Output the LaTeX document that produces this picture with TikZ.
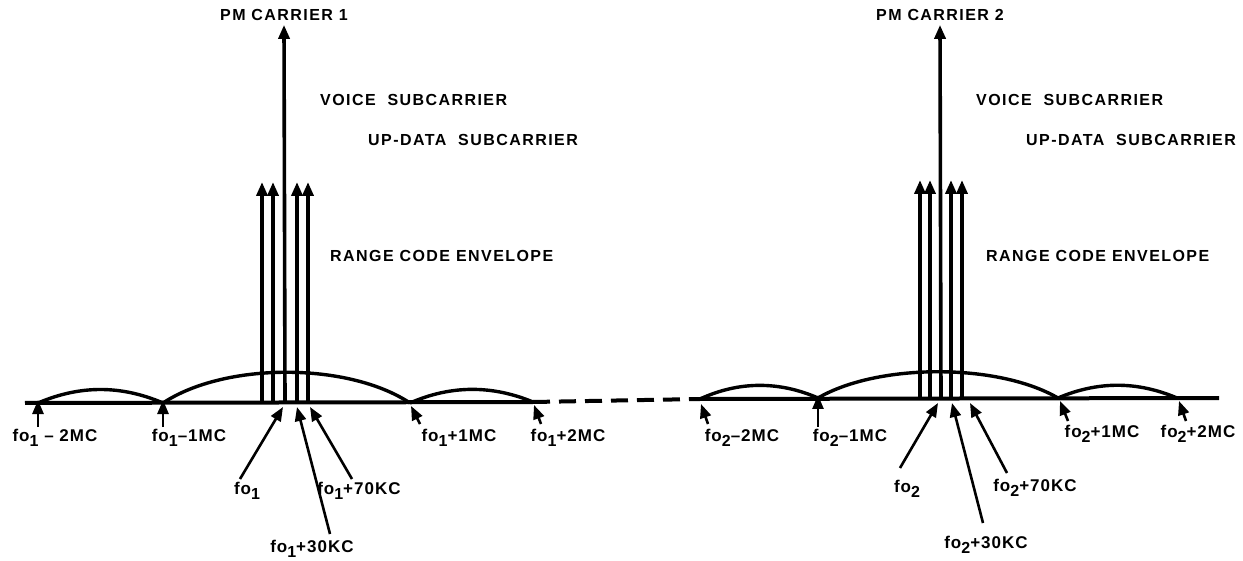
\documentclass[tikz,border=0pt]{standalone}
\usepackage{fontspec}
\setmainfont{Liberation Sans}
\usetikzlibrary{arrows.meta}
\newcommand{\sbs}[1]{\raisebox{-0.55ex}{\fontsize{16}{16}\selectfont #1}}
\tikzset{
  axisline/.style={line width=4pt},
  lobe/.style={line width=3.4pt},
  spec/.style={line width=3.6pt,-{Triangle[length=14pt,width=11pt]}},
  ptr/.style={line width=2.6pt,-{Triangle[length=14pt,width=11pt]}},
  lbl/.style={font=\fontsize{17}{17}\selectfont\bfseries\addfontfeatures{LetterSpace=6},inner sep=0pt},
  ttl/.style={font=\fontsize{16}{16}\selectfont\bfseries\addfontfeatures{LetterSpace=9},inner sep=0pt},
}
\begin{document}
\begin{tikzpicture}[x=1pt,y=-1pt]
\useasboundingbox (0,0) rectangle (1243,561);
% ---------- baseline ----------
\coordinate (L0) at (25,403);
\coordinate (La) at (38,403);
\coordinate (Lb) at (163,403);
\coordinate (Lc) at (410,403);
\coordinate (Ld) at (533,402);
\coordinate (Ra) at (700,399);
\coordinate (Rb) at (818,398);
\coordinate (Rc) at (1058,398);
\coordinate (Rd) at (1177,398);
\coordinate (R0) at (1219,398);
\draw[axisline] (L0) -- (Ld);
\draw[axisline,dash pattern=on 17pt off 9pt] (Ld) -- (Ra);
\draw[axisline] (Ra) -- (R0);
% ---------- lobes ----------
\draw[lobe] (La) .. controls (80,385) and (121,385) .. (Lb);
\draw[lobe] (Lb) .. controls (225,362) and (348,362) .. (Lc);
\draw[lobe] (Lc) .. controls (451,385) and (492,385) .. (Ld);
\draw[lobe] (Ra) .. controls (739,381) and (779,381) .. (Rb);
\draw[lobe] (Rb) .. controls (878,363) and (998,363) .. (Rc);
\draw[lobe] (Rc) .. controls (1098,381) and (1137,381) .. (Rd);
% ---------- spectral lines, carrier 1 ----------
\foreach \n/\x in {a/262,b/273,d/297,e/308}{
  \coordinate (s1\n) at (\x,403);
  \coordinate (t1\n) at (\x,182);
  \draw[spec] (s1\n) -- (t1\n);
}
\node[ttl] (pm1) at (284,15) {PM CARRIER 1};
\coordinate (s1c) at (285,403);
\draw[spec] (s1c) -- ([yshift=-4pt]pm1.south);
% ---------- spectral lines, carrier 2 ----------
\foreach \n/\x in {a/920,b/930,d/951,e/962}{
  \coordinate (s2\n) at (\x,398);
  \coordinate (t2\n) at (\x,180);
  \draw[spec] (s2\n) -- (t2\n);
}
\node[ttl] (pm2) at (940,15) {PM CARRIER 2};
\coordinate (s2c) at (941,398);
\draw[spec] (s2c) -- ([yshift=-4pt]pm2.south);
% ---------- titles ----------
\node[ttl,anchor=west] (v1) at (320,100) {VOICE\ \ SUBCARRIER};
\node[ttl,anchor=west] (u1) at (368,140) {UP-DATA\ \ SUBCARRIER};
\node[ttl,anchor=west] (r1) at (330,256) {RANGE CODE ENVELOPE};
\node[ttl,anchor=west] (v2) at (976,100) {VOICE\ \ SUBCARRIER};
\node[ttl,anchor=west] (u2) at (1026,140) {UP-DATA\ \ SUBCARRIER};
\node[ttl,anchor=west] (r2) at (986,256) {RANGE CODE ENVELOPE};
% ---------- labels carrier 1 ----------
\node[lbl] (m2a) at (55,438) {fo\sbs{1} -- 2MC};
\node[lbl] (m1a) at (189,438) {fo\sbs{1}--1MC};
\node[lbl] (p1a) at (459,438) {fo\sbs{1}+1MC};
\node[lbl] (p2a) at (568,438) {fo\sbs{1}+2MC};
\node[lbl] (f1) at (247,491) {fo\sbs{1}};
\node[lbl] (f130) at (312,549) {fo\sbs{1}+30KC};
\node[lbl] (f170) at (359,491) {fo\sbs{1}+70KC};
\draw[ptr] (m2a.north -| La) ++(0,-2) -- ([yshift=3pt]La);
\draw[ptr] (m1a.north -| Lb) ++(0,-2) -- ([yshift=3pt]Lb);
\coordinate (q1) at (420,424);
\coordinate (q2) at (541,424);
\draw[ptr] (q1) -- (411,406);
\draw[ptr] (q2) -- (534,405);
\coordinate (g1) at (240,479);
\coordinate (g2) at (330,534);
\coordinate (g3) at (352,479);
\draw[ptr] (g1) -- (283,407);
\draw[ptr] (g2) -- (297,407);
\draw[ptr] (g3) -- (310,407);
% ---------- labels carrier 2 ----------
\node[lbl] (m2b) at (742,438) {fo\sbs{2}--2MC};
\node[lbl] (m1b) at (850,438) {fo\sbs{2}--1MC};
\node[lbl] (p1b) at (1102,434) {fo\sbs{2}+1MC};
\node[lbl] (p2b) at (1198,434) {fo\sbs{2}+2MC};
\node[lbl] (f2) at (907,489) {fo\sbs{2}};
\node[lbl] (f230) at (986,545) {fo\sbs{2}+30KC};
\node[lbl] (f270) at (1035,488) {fo\sbs{2}+70KC};
\coordinate (q3) at (708,424);
\coordinate (q4) at (1068,421);
\coordinate (q5) at (1186,421);
\draw[ptr] (q3) -- (701,404);
\draw[ptr] (m1b.north -| Rb) ++(0,-2) -- ([yshift=3pt]Rb);
\draw[ptr] (q4) -- (1060,401);
\draw[ptr] (q5) -- (1179,401);
\coordinate (h1) at (900,468);
\coordinate (h2) at (983,523);
\coordinate (h3) at (1007,473);
\draw[ptr] (h1) -- (938,403);
\draw[ptr] (h2) -- (952,403);
\draw[ptr] (h3) -- (970,403);
\end{tikzpicture}
\end{document}
